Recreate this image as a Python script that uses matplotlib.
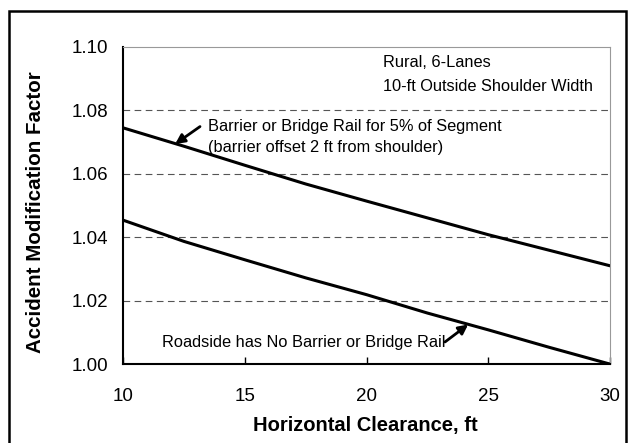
import matplotlib.pyplot as plt
from matplotlib.patches import Rectangle

plt.rcParams['font.family'] = ['Liberation Sans', 'DejaVu Sans']

# clearance (ft) and AMF values
clearance = [10, 12.5, 15, 17.5, 20, 22.5, 25, 27.5, 30]
amf_barrier = [1.0745, 1.0687, 1.0627, 1.0568, 1.0514, 1.0461, 1.0408, 1.0359, 1.031]
amf_no_barrier = [1.0454, 1.0387, 1.0329, 1.0272, 1.0219, 1.0161, 1.0108, 1.0053, 1.000]

x_ticks = [10, 15, 20, 25, 30]
y_ticks = [1.00, 1.02, 1.04, 1.06, 1.08, 1.10]

fig = plt.figure(figsize=(6.31, 4.43), dpi=100)
ax = fig.add_axes([0.195, 0.178, 0.772, 0.716])

ax.plot(clearance, amf_barrier, color='black', lw=2.2)
ax.plot(clearance, amf_no_barrier, color='black', lw=2.2)

ax.set_xlim(10, 30)
ax.set_ylim(1.00, 1.10)
ax.set_xticks(x_ticks)
ax.set_yticks(y_ticks)
ax.set_yticklabels([f'{v:.2f}' for v in y_ticks])

for v in y_ticks[1:-1]:
    ax.axhline(v, color='#555555', lw=0.8, ls=(0, (6, 4)), zorder=0)

ax.spines['left'].set_linewidth(1.5)
ax.spines['bottom'].set_linewidth(1.5)
ax.spines['top'].set_color('#999999')
ax.spines['right'].set_color('#999999')
ax.spines['top'].set_linewidth(0.8)
ax.spines['right'].set_linewidth(0.8)

ax.tick_params(axis='x', direction='in', length=5, width=1, pad=17, labelsize=13.5)
ax.tick_params(axis='y', direction='in', length=0, pad=11, labelsize=13.5)

ax.set_xlabel('Horizontal Clearance, ft', fontsize=14.5, fontweight='bold')
ax.set_ylabel('Accident Modification Factor', fontsize=14.8, fontweight='bold')
ax.xaxis.set_label_coords(0.497, -0.162)
ax.yaxis.set_label_coords(-0.160, 0.48)

ax.text(20.68, 1.0950, 'Rural, 6-Lanes', fontsize=11.8, va='center', ha='left')
ax.text(20.68, 1.0875, '10-ft Outside Shoulder Width', fontsize=11.8, va='center', ha='left')

arrow = dict(arrowstyle='-|>', color='black', lw=2, mutation_scale=14, shrinkA=0, shrinkB=0)
ax.text(13.5, 1.0749, 'Barrier or Bridge Rail for 5% of Segment', fontsize=11.8,
        va='center', ha='left')
ax.text(13.5, 1.0682, '(barrier offset 2 ft from shoulder)', fontsize=11.8,
        va='center', ha='left')
ax.annotate('', xy=(12.14, 1.0694), xytext=(13.16, 1.0749), arrowprops=arrow)

ax.text(11.6, 1.0067, 'Roadside has No Barrier or Bridge Rail', fontsize=11.8,
        va='center', ha='left')
ax.annotate('', xy=(24.17, 1.0125), xytext=(23.22, 1.0070), arrowprops=arrow)

fig.patches.append(Rectangle((0.0143, -0.05), 0.978, 1.026, transform=fig.transFigure,
                             fill=False, edgecolor='black', lw=1.8))

fig.savefig('out.png', dpi=100)
